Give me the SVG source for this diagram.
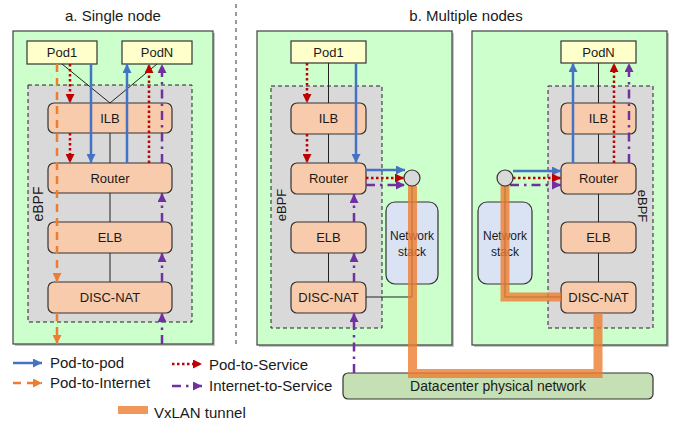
<svg xmlns="http://www.w3.org/2000/svg" width="678" height="424" viewBox="0 0 678 424">
<style>
text{font-family:"Liberation Sans",Arial,sans-serif;fill:#1a1a1a}
.panel{fill:#ccffcc;stroke:#404040;stroke-width:1.2}
.shadow{fill:#8a8a8a;opacity:.5}
.ebpf{fill:#d9d9d9;stroke:#222;stroke-width:1;stroke-dasharray:4 3}
.pod{fill:#ffffcc;stroke:#333;stroke-width:1.2}
.fn{fill:#f8cbad;stroke:#333;stroke-width:1.2}
.ns{fill:#dae3f3;stroke:#333;stroke-width:1.2}
.dc{fill:#c5e0b4;stroke:#333;stroke-width:1.2}
.thin{fill:none;stroke:#222;stroke-width:1}
.lbl{font-size:13px;text-anchor:middle}
.t14{font-size:14px}
.blue{fill:none;stroke:#4472c4;stroke-width:2.5}
.orange{fill:none;stroke:#ed7d31;stroke-width:2.5;stroke-dasharray:8 6}
.red{fill:none;stroke:#c00000;stroke-width:2.5;stroke-dasharray:2.5 2.5}
.purple{fill:none;stroke:#7030a0;stroke-width:2.5;stroke-dasharray:9 5 2.5 5}
.tunnel{fill:none;stroke:#ed7d31;stroke-width:9;opacity:.8}
</style>
<defs>
<marker id="ab" viewBox="0 0 10 10" refX="10" refY="5" markerUnits="userSpaceOnUse" markerWidth="10" markerHeight="9" orient="auto"><path d="M0,0L10,5L0,10z" fill="#4472c4"/></marker>
<marker id="ao" viewBox="0 0 10 10" refX="10" refY="5" markerUnits="userSpaceOnUse" markerWidth="10" markerHeight="9" orient="auto"><path d="M0,0L10,5L0,10z" fill="#ed7d31"/></marker>
<marker id="ar" viewBox="0 0 10 10" refX="10" refY="5" markerUnits="userSpaceOnUse" markerWidth="10" markerHeight="9" orient="auto"><path d="M0,0L10,5L0,10z" fill="#c00000"/></marker>
<marker id="ap" viewBox="0 0 10 10" refX="10" refY="5" markerUnits="userSpaceOnUse" markerWidth="10" markerHeight="9" orient="auto"><path d="M0,0L10,5L0,10z" fill="#7030a0"/></marker>
</defs>

<!-- titles and divider -->
<text x="113" y="21" font-size="15" text-anchor="middle">a. Single node</text>
<text x="466" y="21" font-size="15" text-anchor="middle">b. Multiple nodes</text>
<line x1="236" y1="4" x2="236" y2="346" stroke="#333" stroke-width="1" stroke-dasharray="4 4"/>

<!-- panel a -->
<g id="panel-a">
<rect class="shadow" x="15" y="33" width="200" height="313"/>
<rect class="panel" x="13" y="31" width="200" height="313"/>
<rect class="ebpf" x="28" y="85" width="164" height="237"/>
<text class="t14" font-size="13" transform="translate(43,204) rotate(-90)" text-anchor="middle">eBPF</text>
</g>
<g id="a-pod1"><rect class="pod" x="27" y="41" width="70" height="23"/><text class="lbl" x="62" y="57">Pod1</text></g>
<g id="a-podn"><rect class="pod" x="122" y="41" width="70" height="23"/><text class="lbl" x="157" y="57">PodN</text></g>
<g id="a-ilb"><rect class="fn" x="48" y="103" width="124" height="30" rx="6"/><text class="lbl" x="110" y="123">ILB</text></g>
<g id="a-router"><rect class="fn" x="48" y="163" width="124" height="30" rx="6"/><text class="lbl" x="110" y="183">Router</text></g>
<g id="a-elb"><rect class="fn" x="48" y="222" width="124" height="31" rx="6"/><text class="lbl" x="110" y="242">ELB</text></g>
<g id="a-nat"><rect class="fn" x="48" y="282" width="124" height="31" rx="6"/><text class="lbl" x="110" y="302">DISC-NAT</text></g>

<!-- panel b left -->
<g id="panel-b1">
<rect class="shadow" x="259" y="33" width="195" height="314"/>
<rect class="panel" x="257" y="31" width="195" height="314"/>
<rect class="ebpf" x="271" y="86" width="111" height="242"/>
<text font-size="13" transform="translate(286,205) rotate(-90)" text-anchor="middle">eBPF</text>
</g>
<g id="b1-pod1"><rect class="pod" x="291" y="41" width="75" height="22"/><text class="lbl" x="328.5" y="57">Pod1</text></g>
<g id="b1-ilb"><rect class="fn" x="291" y="103" width="75" height="31" rx="6"/><text class="lbl" x="328.5" y="123">ILB</text></g>
<g id="b1-router"><rect class="fn" x="291" y="163" width="75" height="31" rx="6"/><text class="lbl" x="328.5" y="183">Router</text></g>
<g id="b1-elb"><rect class="fn" x="291" y="222" width="75" height="31" rx="6"/><text class="lbl" x="328.5" y="242">ELB</text></g>
<g id="b1-nat"><rect class="fn" x="291" y="282" width="75" height="31" rx="6"/><text class="lbl" x="328.5" y="302">DISC-NAT</text></g>
<g id="b1-netstack"><rect class="ns" x="386" y="202" width="52" height="82" rx="9"/><text font-size="12" x="412" y="240" text-anchor="middle">Network</text><text font-size="12" x="412" y="256" text-anchor="middle">stack</text></g>

<!-- panel b right -->
<g id="panel-b2">
<rect class="shadow" x="474" y="33" width="195" height="314"/>
<rect class="panel" x="472" y="31" width="195" height="314"/>
<rect class="ebpf" x="548" y="86" width="105" height="242"/>
<text font-size="13" transform="translate(638,206) rotate(90)" text-anchor="middle">eBPF</text>
</g>
<g id="b2-podn"><rect class="pod" x="561" y="41" width="75" height="22"/><text class="lbl" x="598.5" y="57">PodN</text></g>
<g id="b2-ilb"><rect class="fn" x="561" y="103" width="75" height="31" rx="6"/><text class="lbl" x="598.5" y="123">ILB</text></g>
<g id="b2-router"><rect class="fn" x="561" y="163" width="75" height="31" rx="6"/><text class="lbl" x="598.5" y="183">Router</text></g>
<g id="b2-elb"><rect class="fn" x="561" y="222" width="75" height="31" rx="6"/><text class="lbl" x="598.5" y="242">ELB</text></g>
<g id="b2-nat"><rect class="fn" x="561" y="282" width="75" height="31" rx="6"/><text class="lbl" x="598.5" y="302">DISC-NAT</text></g>
<g id="b2-netstack"><rect class="ns" x="478" y="202" width="54" height="82" rx="9"/><text font-size="12" x="505" y="240" text-anchor="middle">Network</text><text font-size="12" x="505" y="256" text-anchor="middle">stack</text></g>

<g id="datacenter"><rect class="dc" x="343" y="373" width="310" height="26" rx="5"/><text font-size="14" x="498" y="391" text-anchor="middle">Datacenter physical network</text></g>

<g id="connectors">
<!-- thin structural lines -->
<path class="thin" d="M62,64L110,103M157,64L110,103M110,133V163M110,193V222M110,253V282"/>
<path class="thin" d="M328.5,63V103M328.5,134V163M328.5,194V222M328.5,253V282M366,297H412V186"/>
<path class="thin" d="M598.5,63V103M598.5,134V163M598.5,194V222M598.5,253V282M505,186V297H561"/>

<!-- panel a flows -->
<path class="orange" d="M57,64V282" marker-end="url(#ao)"/>
<path class="orange" d="M57,313V344" marker-end="url(#ao)"/>
<path class="red" d="M70,64V103" marker-end="url(#ar)"/>
<path class="red" d="M70,133V163" marker-end="url(#ar)"/>
<path class="blue" d="M91,64V163" marker-end="url(#ab)"/>
<path class="blue" d="M127,163V64" marker-end="url(#ab)"/>
<path class="red" d="M149,163V64" marker-end="url(#ar)"/>
<path class="purple" d="M162,163V64" marker-end="url(#ap)"/>
<path class="purple" d="M162,222V193" marker-end="url(#ap)"/>
<path class="purple" d="M162,282V253" marker-end="url(#ap)"/>
<path class="purple" d="M162,344V313" marker-end="url(#ap)"/>

<!-- panel b left flows -->
<path class="red" d="M307,63V103" marker-end="url(#ar)"/>
<path class="red" d="M307,134V163" marker-end="url(#ar)"/>
<path class="blue" d="M356,63V163" marker-end="url(#ab)"/>
<path class="blue" d="M366,170H405" marker-end="url(#ab)"/>
<path class="red" d="M366,178H404" marker-end="url(#ar)"/>
<path class="purple" d="M366,185H405" marker-end="url(#ap)"/>
<path class="purple" d="M354,222V194" marker-end="url(#ap)"/>
<path class="purple" d="M354,282V253" marker-end="url(#ap)"/>
<path class="purple" d="M354,373V313" marker-end="url(#ap)"/>

<!-- panel b right flows -->
<path class="blue" d="M513,171H561" marker-end="url(#ab)"/>
<path class="red" d="M513,178H561" marker-end="url(#ar)"/>
<path class="purple" d="M510,185H561" marker-end="url(#ap)"/>
<path class="blue" d="M573,163V63" marker-end="url(#ab)"/>
<path class="red" d="M614,163V63" marker-end="url(#ar)"/>
<path class="purple" d="M629,163V63" marker-end="url(#ap)"/>

<!-- VxLAN tunnels -->
<path class="tunnel" d="M412.5,186V373.5H598V313"/>
<path class="tunnel" d="M505,186V297H561"/>
</g>

<g id="b1-iface"><circle cx="412" cy="178" r="8" fill="#d9d9d9" stroke="#333" stroke-width="1.2"/></g>
<g id="b2-iface"><circle cx="505" cy="178" r="8" fill="#d9d9d9" stroke="#333" stroke-width="1.2"/></g>

<!-- legend -->
<g id="legend">
<path class="blue" d="M13,363H42" marker-end="url(#ab)"/>
<text font-size="15" x="50" y="368">Pod-to-pod</text>
<path class="orange" d="M13,383H42" stroke-dasharray="12 9" marker-end="url(#ao)"/>
<text font-size="15" x="50" y="388">Pod-to-Internet</text>
<path class="red" d="M172,364H202" marker-end="url(#ar)"/>
<text font-size="15" x="209" y="370">Pod-to-Service</text>
<path class="purple" d="M172,386H202" stroke-dasharray="8 8 3 20" marker-end="url(#ap)"/>
<text font-size="15" x="209" y="391">Internet-to-Service</text>
<rect x="118" y="406" width="30" height="8" fill="#ed7d31" opacity=".8"/>
<text font-size="15" x="154" y="418">VxLAN tunnel</text>
</g>
</svg>
